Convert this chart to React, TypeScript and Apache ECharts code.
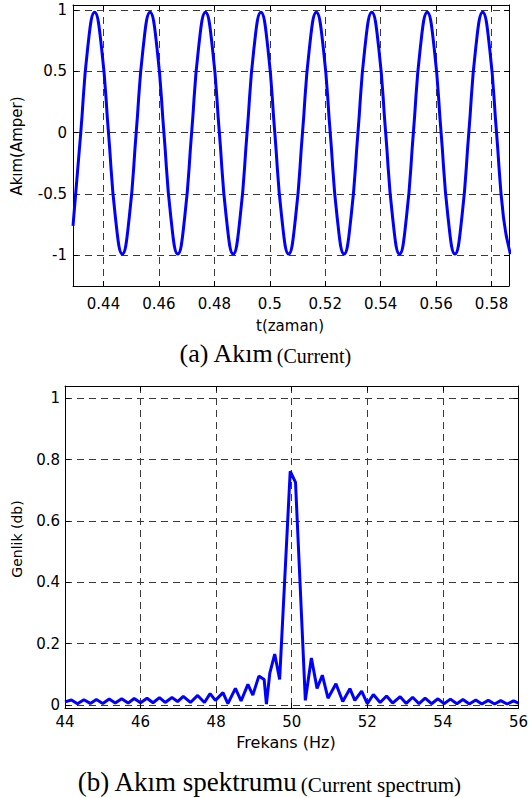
import React, { useEffect, useRef } from "react";
import * as echarts from "echarts";

// ---- (a) Current waveform: time samples (s) and current (A)
const currentTime = [
  0.4290, 0.4318, 0.4343, 0.4368, 0.4393, 0.4418, 0.4443, 0.4468,
  0.4493, 0.4518, 0.4543, 0.4568, 0.4593, 0.4618, 0.4643, 0.4668,
  0.4693, 0.4718, 0.4743, 0.4768, 0.4793, 0.4818, 0.4843, 0.4868,
  0.4893, 0.4918, 0.4943, 0.4968, 0.4993, 0.5018, 0.5043, 0.5068,
  0.5093, 0.5118, 0.5143, 0.5168, 0.5193, 0.5218, 0.5243, 0.5268,
  0.5293, 0.5318, 0.5343, 0.5368, 0.5393, 0.5418, 0.5443, 0.5468,
  0.5493, 0.5518, 0.5543, 0.5568, 0.5593, 0.5618, 0.5643, 0.5668,
  0.5693, 0.5718, 0.5743, 0.5768, 0.5793, 0.5818, 0.5843, 0.5868,
];
const currentAmp = [
  -0.76, 0.0, 0.69, 0.98, 0.69, 0.0, -0.69, -0.99,
  -0.69, 0.0, 0.69, 0.98, 0.69, 0.0, -0.69, -0.99,
  -0.69, 0.0, 0.69, 0.98, 0.69, 0.0, -0.69, -0.99,
  -0.69, 0.0, 0.69, 0.98, 0.69, 0.0, -0.69, -0.99,
  -0.69, 0.0, 0.69, 0.98, 0.69, 0.0, -0.69, -0.99,
  -0.69, 0.0, 0.69, 0.98, 0.69, 0.0, -0.69, -0.99,
  -0.69, 0.0, 0.69, 0.98, 0.69, 0.0, -0.69, -0.99,
  -0.69, 0.0, 0.69, 0.98, 0.69, 0.0, -0.69, -0.99,
];
const timeTicks = [0.44, 0.46, 0.48, 0.5, 0.52, 0.54, 0.56, 0.58];
const ampTicks = [-1, -0.5, 0, 0.5, 1];

// ---- (b) Current spectrum: frequency (Hz) and magnitude
const freqHz = [
  44.0, 44.17, 44.33, 44.5, 44.67, 44.83, 45.0, 45.17, 45.33, 45.5,
  45.67, 45.83, 46.0, 46.17, 46.33, 46.5, 46.65, 46.83, 46.98, 47.13,
  47.32, 47.51, 47.69, 47.84, 47.98, 48.18, 48.31, 48.51, 48.66, 48.84,
  48.97, 49.13, 49.27, 49.33, 49.42, 49.55, 49.68, 49.96, 50.1, 50.36,
  50.52, 50.67, 50.81, 50.96, 51.17, 51.35, 51.54, 51.67, 51.85, 52.0,
  52.16, 52.34, 52.51, 52.67, 52.87, 53.03, 53.2, 53.37, 53.53, 53.7,
  53.87, 54.03, 54.2, 54.37, 54.53, 54.7, 54.87, 55.03, 55.2, 55.37,
  55.53, 55.7, 55.87, 56.0,
];
const gainDb = [
  0.010, 0.016, 0.004, 0.017, 0.005, 0.018, 0.005, 0.019, 0.006, 0.020,
  0.006, 0.021, 0.007, 0.022, 0.007, 0.024, 0.008, 0.024, 0.011, 0.028,
  0.008, 0.031, 0.008, 0.037, 0.015, 0.040, 0.004, 0.054, 0.013, 0.067,
  0.032, 0.094, 0.083, 0.003, 0.104, 0.166, 0.083, 0.762, 0.726, 0.015,
  0.153, 0.054, 0.097, 0.022, 0.069, 0.011, 0.053, 0.015, 0.045, 0.004,
  0.034, 0.008, 0.029, 0.006, 0.027, 0.005, 0.025, 0.004, 0.022, 0.004,
  0.020, 0.004, 0.019, 0.004, 0.018, 0.003, 0.016, 0.003, 0.015, 0.003,
  0.014, 0.003, 0.013, 0.006,
];
const freqTicks = [44, 46, 48, 50, 52, 54, 56];
const gainTicks = [0, 0.2, 0.4, 0.6, 0.8, 1];

const SANS = "DejaVu Sans";
const SERIF = "Liberation Serif";
const GRID_DASH = [7, 5];

function frameAxes(gridIndex: number, min: number, max: number, ticks: number[], isX: boolean, labelMargin: number) {
  const main: any = {
    gridIndex,
    type: "value",
    min,
    max,
    position: isX ? "bottom" : "left",
    axisLine: { show: true, onZero: false, lineStyle: { color: "#000", width: 1 } },
    axisTick: { show: true, inside: true, length: 5, customValues: ticks, lineStyle: { color: "#000" } },
    axisLabel: {
      show: true, customValues: ticks, fontFamily: SANS, fontSize: 15, lineHeight: 15,
      color: "#000", margin: labelMargin,
    },
    splitLine: { show: true, lineStyle: { type: GRID_DASH, color: "#3a3a3a", width: 1 } },
  };
  const opp: any = {
    gridIndex,
    type: "value",
    min,
    max,
    position: isX ? "top" : "right",
    axisLine: { show: true, onZero: false, lineStyle: { color: "#000", width: 1 } },
    axisTick: { show: true, inside: true, length: 5, customValues: ticks, lineStyle: { color: "#000" } },
    axisLabel: { show: false },
    splitLine: { show: false },
  };
  return [main, opp];
}

export default function App() {
  const ref = useRef<HTMLDivElement>(null);
  useEffect(() => {
    if (!ref.current) return;
    const chart = echarts.init(ref.current, undefined, { renderer: "svg" });
    const option: any = {
      animation: false,
      backgroundColor: "#fff",
      grid: [
        { left: 73, top: 5, width: 436, height: 281 },
        { left: 65, top: 386, width: 455, height: 322 },
      ],
      xAxis: [
        ...frameAxes(0, 0.429, 0.5863, timeTicks, true, 10),
        ...frameAxes(1, 44, 56, freqTicks, true, 6),
      ],
      yAxis: [
        ...frameAxes(0, -1.25, 1.04, ampTicks, false, 6),
        ...frameAxes(1, -0.01, 1.04, gainTicks, false, 5),
      ],
      series: [
        {
          type: "line",
          xAxisIndex: 0,
          yAxisIndex: 0,
          data: currentTime.map((t, i) => [t, currentAmp[i]]),
          smooth: true,
          showSymbol: false,
          clip: true,
          lineStyle: { color: "#0000ff", width: 3 },
        },
        {
          type: "line",
          xAxisIndex: 2,
          yAxisIndex: 2,
          data: freqHz.map((f, i) => [f, gainDb[i]]),
          smooth: false,
          showSymbol: false,
          clip: true,
          lineStyle: { color: "#0000ff", width: 3 },
        },
      ],
      graphic: [
        {
          type: "text", x: 17, y: 146, rotation: Math.PI / 2,
          style: { text: "Akım(Amper)", fontFamily: SANS, fontSize: 15, fill: "#000", align: "center", verticalAlign: "middle" },
        },
        {
          type: "text", x: 290, y: 326,
          style: { text: "t(zaman)", fontFamily: SANS, fontSize: 15, lineHeight: 15, fill: "#000", align: "center", verticalAlign: "middle" },
        },
        {
          type: "text", x: 265, y: 352,
          style: {
            text: "{a|(a) Akım} {b|(Current)}",
            align: "center", verticalAlign: "middle",
            rich: {
              a: { fontFamily: SERIF, fontSize: 26, fill: "#000", verticalAlign: "bottom", lineHeight: 28 },
              b: { fontFamily: SERIF, fontSize: 20, fill: "#000", verticalAlign: "bottom", lineHeight: 28 },
            },
          },
        },
        {
          type: "text", x: 17, y: 539, rotation: Math.PI / 2,
          style: { text: "Genlik (db)", fontFamily: SANS, fontSize: 14, fill: "#000", align: "center", verticalAlign: "middle" },
        },
        {
          type: "text", x: 286, y: 742,
          style: { text: "Frekans (Hz)", fontFamily: SANS, fontSize: 16, lineHeight: 16, fill: "#000", align: "center", verticalAlign: "middle" },
        },
        {
          type: "text", x: 269, y: 780,
          style: {
            text: "{a|(b) Akım spektrumu} {b|(Current spectrum)}",
            align: "center", verticalAlign: "middle",
            rich: {
              a: { fontFamily: SERIF, fontSize: 27, fill: "#000", verticalAlign: "bottom", lineHeight: 30 },
              b: { fontFamily: SERIF, fontSize: 21, fill: "#000", verticalAlign: "bottom", lineHeight: 30 },
            },
          },
        },
      ],
    };
    chart.setOption(option);
    return () => chart.dispose();
  }, []);
  return (
    <div
      ref={ref}
      style={{ position: "fixed", left: 0, top: 0, width: 531, height: 798, background: "#fff" }}
    />
  );
}
